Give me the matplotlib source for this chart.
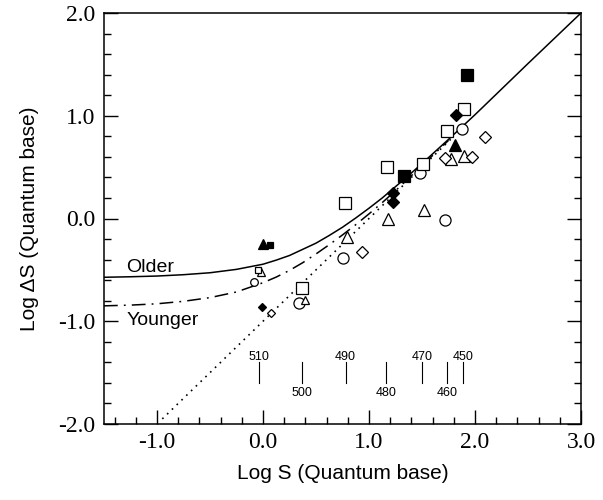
import matplotlib
matplotlib.use("Agg")
import matplotlib.pyplot as plt
from matplotlib.ticker import MultipleLocator, FixedLocator

# ---- data ----
# Curves (Log S, Log dS)
older_x = [-1.5, -1.25, -1.0, -0.75, -0.5, -0.25, 0.0, 0.125, 0.25, 0.375, 0.5, 0.625,
           0.75, 0.875, 1.0, 1.125, 1.25, 1.375, 1.5, 1.75, 2.0, 2.5, 3.0]
older_y = [-0.572, -0.567, -0.560, -0.547, -0.528, -0.495, -0.445, -0.405, -0.36, -0.30,
           -0.24, -0.165, -0.085, 0.005, 0.10, 0.20, 0.31, 0.42, 0.535, 0.77, 1.01, 1.508, 2.0]
younger_x = [-1.5, -1.25, -1.0, -0.75, -0.5, -0.25, 0.0, 0.125, 0.25, 0.375, 0.5, 0.625,
             0.75, 0.875, 1.0, 1.125, 1.25, 1.5, 1.75]
younger_y = [-0.850, -0.843, -0.830, -0.806, -0.770, -0.715, -0.625, -0.57, -0.505, -0.43,
             -0.345, -0.255, -0.160, -0.06, 0.045, 0.155, 0.270, 0.515, 0.760]
dotted_x = [-0.95, 1.8]
dotted_y = [-1.95, 0.8]

# markers
open_sq_x = [1.90, 1.74, 1.51, 1.167, 0.774, 0.37]
open_sq_y = [1.07, 0.85, 0.53, 0.50, 0.154, -0.68]
filled_sq_x = [1.92, 1.33]
filled_sq_y = [1.40, 0.417]
open_ci_x = [1.875, 1.484, 1.717, 0.75, 0.34]
open_ci_y = [0.87, 0.44, -0.015, -0.38, -0.82]
open_tri_x = [1.77, 1.90, 1.52, 1.18, 0.79]
open_tri_y = [0.575, 0.61, 0.083, -0.005, -0.177]
filled_tri_x = [1.81]
filled_tri_y = [0.715]
open_dia_x = [2.09, 1.72, 1.97, 0.937]
open_dia_y = [0.79, 0.585, 0.595, -0.33]
filled_dia_x = [1.82, 1.226, 1.226]
filled_dia_y = [1.01, 0.251, 0.163]

# small markers near Log S = 0
small_open_tri_x = [-0.02, 0.40]
small_open_tri_y = [-0.52, -0.79]
small_open_sq_x = [-0.045]
small_open_sq_y = [-0.50]
small_open_ci_x = [-0.085]
small_open_ci_y = [-0.615]
small_filled_dia_x = [-0.01]
small_filled_dia_y = [-0.865]
small_open_dia_x = [0.08]
small_open_dia_y = [-0.917]
small_filled_tri_x = [0.0]
small_filled_tri_y = [-0.248]
small_filled_sq_x = [0.065]
small_filled_sq_y = [-0.258]

# wavelength markers
wl_labels = ["510", "500", "490", "480", "470", "460", "450"]
wl_x = [-0.04, 0.366, 0.78, 1.16, 1.50, 1.735, 1.89]
wl_label_above = [True, False, True, False, True, False, True]

x_ticks = [-1.0, 0.0, 1.0, 2.0, 3.0]
x_ticklabels = ["-1.0", "0.0", "1.0", "2.0", "3.0"]
y_ticks = [-2.0, -1.0, 0.0, 1.0, 2.0]
y_ticklabels = ["-2.0", "-1.0", "0.0", "1.0", "2.0"]

# ---- figure ----
fig = plt.figure(figsize=(6.03, 5.00), dpi=100)
ax = fig.add_axes([104/603, 1-424/500, (581-104)/603, (424-13)/500])
ax.set_xlim(-1.5, 3.0)
ax.set_ylim(-2.0, 2.0)

lw = 1.1
ax.plot(older_x, older_y, color="black", lw=lw, solid_capstyle="butt", solid_joinstyle="round")
ax.plot(younger_x, younger_y, color="black", lw=lw, dashes=(9, 4, 1.2, 4))
ax.plot(dotted_x, dotted_y, color="black", lw=1.2, dashes=(1.0, 3.0))

mew = 0.9
def mk(xs, ys, m, size, filled):
    ax.plot(xs, ys, linestyle="none", marker=m, markersize=size,
            markerfacecolor="black" if filled else "white",
            markeredgecolor="black", markeredgewidth=mew, zorder=3)

mk(open_ci_x, open_ci_y, "o", 8.0, False)
mk(open_tri_x, open_tri_y, "^", 8.0, False)
mk(open_dia_x, open_dia_y, "D", 6.2, False)
mk(open_sq_x, open_sq_y, "s", 8.3, False)
mk(filled_sq_x, filled_sq_y, "s", 8.3, True)
mk(filled_tri_x, filled_tri_y, "^", 8.0, True)
mk(filled_dia_x, filled_dia_y, "D", 6.2, True)

mk(small_open_tri_x, small_open_tri_y, "^", 5.5, False)
mk(small_open_sq_x, small_open_sq_y, "s", 4.5, False)
mk(small_open_ci_x, small_open_ci_y, "o", 5.5, False)
mk(small_filled_dia_x, small_filled_dia_y, "D", 4.5, True)
mk(small_open_dia_x, small_open_dia_y, "D", 4.2, False)
mk(small_filled_tri_x, small_filled_tri_y, "^", 6.5, True)
mk(small_filled_sq_x, small_filled_sq_y, "s", 4.2, True)

# wavelength marks
for lab, wx, above in zip(wl_labels, wl_x, wl_label_above):
    ax.plot([wx, wx], [-1.40, -1.60], color="black", lw=0.8)
    ax.text(wx, -1.35 if above else -1.70, lab, ha="center", va="center",
            fontsize=9, family="Liberation Sans")

ax.text(-1.295, -0.518, "Older", fontsize=14, family="Liberation Sans",
        ha="left", va="baseline")
ax.text(-1.29, -1.037, "Younger", fontsize=14, family="Liberation Sans",
        ha="left", va="baseline")

# axes styling
for s in ax.spines.values():
    s.set_linewidth(1.1)
ax.xaxis.set_major_locator(FixedLocator(x_ticks))
ax.yaxis.set_major_locator(FixedLocator(y_ticks))
ax.xaxis.set_minor_locator(MultipleLocator(0.2))
ax.yaxis.set_minor_locator(MultipleLocator(0.2))
ax.set_xticklabels(x_ticklabels)
ax.set_yticklabels(y_ticklabels)
ax.tick_params(which="both", direction="in", top=False, right=True,
               width=1.0, labelsize=17)
ax.tick_params(which="major", length=10, pad=6)
ax.tick_params(which="minor", length=5)
for t in ax.get_xticklabels() + ax.get_yticklabels():
    t.set_family("Liberation Serif")

ax.set_xlabel("Log S (Quantum base)", fontsize=15, family="Liberation Sans", labelpad=8)
ax.set_ylabel("Log \u0394S (Quantum base)", fontsize=15, family="Liberation Sans", labelpad=14)

fig.savefig("out.png", dpi=100)
